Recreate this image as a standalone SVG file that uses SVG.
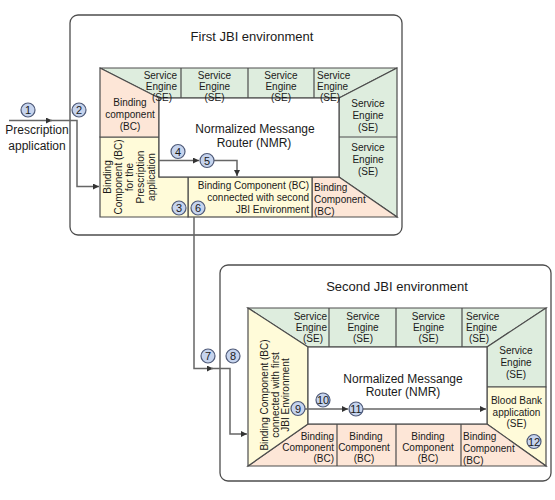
<svg xmlns="http://www.w3.org/2000/svg" width="555" height="500" viewBox="0 0 555 500">
<defs>
<style>
text{font-family:"Liberation Sans",Arial,sans-serif;fill:#1a1a1a}
.env{fill:#fff;stroke:#4d4d4d;stroke-width:1.3}
.t13{font-size:13px;text-anchor:middle}
.t12{font-size:12px;text-anchor:middle}
.t10{font-size:10px}
.m{text-anchor:middle}
.e{text-anchor:end}
.g{fill:#deedde;stroke:#4d4d4d;stroke-width:1.2}
.o{fill:#fde6d7;stroke:#4d4d4d;stroke-width:1.2}
.y{fill:#fffbd9;stroke:#4d4d4d;stroke-width:1.2}
.w{fill:#fff;stroke:#4d4d4d;stroke-width:1.2}
.dv{stroke:#4d4d4d;stroke-width:1.2;fill:none}
.c circle{fill:#c6d4ee;stroke:#4f5a78;stroke-width:1.2}
.c text{font-size:11px;text-anchor:middle}
.ln{fill:none;stroke:#666;stroke-width:1.5}
</style>
<marker id="ah" viewBox="0 0 10 10" refX="10" refY="5" markerWidth="8" markerHeight="6" markerUnits="userSpaceOnUse" orient="auto">
<path d="M0,0 L10,5 L0,10 z" fill="#333"/>
</marker>
</defs>

<g id="env1">
<rect class="env" x="70" y="15" width="332" height="220" rx="8"/>
<text class="t13" x="252" y="41">First JBI environment</text>
</g>

<g id="env1-frame">
<polygon class="g" points="100,68 397,68 339,98 159,98"/>
<path class="dv" d="M181,68V98M248,68V98M314,68V98"/>
<polygon class="g" points="397,68 397,217 339,177 339,98"/>
<path class="dv" d="M339,137H397"/>
<polygon class="o" points="312,177 339,177 397,217 312,217"/>
<rect class="y" x="188" y="177" width="124" height="40"/>
<polygon class="y" points="100,137 159,137 159,177 188,177 188,217 100,217"/>
<polygon class="o" points="100,68 159,98 159,137 100,137"/>
<rect class="w" x="159" y="98" width="180" height="79"/>
</g>

<g id="e1-se1"><text class="t10 e" x="177" y="78.5">Service</text><text class="t10 e" x="177" y="89.5">Engine</text><text class="t10 e" x="172" y="100.5">(SE)</text></g>
<g id="e1-se2"><text class="t10 m" x="214.5" y="78.5">Service</text><text class="t10 m" x="214.5" y="89.5">Engine</text><text class="t10 m" x="214.5" y="100.5">(SE)</text></g>
<g id="e1-se3"><text class="t10 m" x="281" y="78.5">Service</text><text class="t10 m" x="281" y="89.5">Engine</text><text class="t10 m" x="281" y="100.5">(SE)</text></g>
<g id="e1-se4"><text class="t10" x="317" y="78.5">Service</text><text class="t10" x="317" y="89.5">Engine</text><text class="t10" x="320" y="100.5">(SE)</text></g>
<g id="e1-se5"><text class="t10 m" x="368" y="107">Service</text><text class="t10 m" x="368" y="119">Engine</text><text class="t10 m" x="368" y="131">(SE)</text></g>
<g id="e1-se6"><text class="t10 m" x="368" y="151">Service</text><text class="t10 m" x="368" y="163">Engine</text><text class="t10 m" x="368" y="175">(SE)</text></g>
<g id="e1-bc1"><text class="t10 m" x="130" y="105.5">Binding</text><text class="t10 m" x="130" y="117.5">component</text><text class="t10 m" x="130" y="129.5">(BC)</text></g>
<g id="e1-nmr"><text class="t12" x="255" y="133">Normalized Messange</text><text class="t12" x="254" y="146.5">Router (NMR)</text></g>
<g id="e1-bcp" transform="translate(0,177) rotate(-90)">
<text class="t10 m" x="0" y="110.5">Binding</text>
<text class="t10 m" x="0" y="121.5">Component (BC)</text>
<text class="t10 m" x="0" y="132.5">for the</text>
<text class="t10 m" x="0" y="143.5">Prescription</text>
<text class="t10 m" x="0" y="154.5">application</text>
</g>
<g id="e1-bc2"><text class="t10 e" x="309" y="189">Binding Component (BC)</text><text class="t10 e" x="309" y="201">connected with second</text><text class="t10 e" x="309" y="213">JBI Environment</text></g>
<g id="e1-bc3"><text class="t10" x="314" y="191">Binding</text><text class="t10" x="314" y="203">Component</text><text class="t10" x="314" y="215">(BC)</text></g>

<g id="presc"><text class="t12" x="37" y="133.5">Prescription</text><text class="t12" x="37" y="150">application</text></g>

<g id="env2">
<rect class="env" x="220" y="265" width="331" height="216" rx="8"/>
<text class="t13" x="397" y="291">Second JBI environment</text>
</g>

<g id="env2-frame">
<polygon class="g" points="248,308 546,308 487,347 308,347"/>
<path class="dv" d="M329,308V347M396,308V347M462,308V347"/>
<polygon class="g" points="546,308 546,387 487,387 487,347"/>
<polygon class="y" points="487,387 546,387 546,466 487,424"/>
<polygon class="o" points="248,466 308,424 487,424 546,466"/>
<path class="dv" d="M337,424V466M396,424V466M461,424V466"/>
<polygon class="y" points="248,308 308,347 308,424 248,466"/>
<rect class="w" x="308" y="347" width="179" height="77"/>
</g>

<g id="e2-se1"><text class="t10 e" x="327" y="319.5">Service</text><text class="t10 e" x="327" y="330.5">Engine</text><text class="t10 e" x="323" y="341.5">(SE)</text></g>
<g id="e2-se2"><text class="t10 m" x="363" y="319.5">Service</text><text class="t10 m" x="363" y="330.5">Engine</text><text class="t10 m" x="363" y="341.5">(SE)</text></g>
<g id="e2-se3"><text class="t10 m" x="428.5" y="319.5">Service</text><text class="t10 m" x="428.5" y="330.5">Engine</text><text class="t10 m" x="428.5" y="341.5">(SE)</text></g>
<g id="e2-se4"><text class="t10" x="466" y="319.5">Service</text><text class="t10" x="466" y="330.5">Engine</text><text class="t10" x="469" y="341.5">(SE)</text></g>
<g id="e2-se5"><text class="t10 m" x="516" y="354">Service</text><text class="t10 m" x="516" y="366">Engine</text><text class="t10 m" x="516" y="378">(SE)</text></g>
<g id="e2-bb"><text class="t10 m" x="516.5" y="404">Blood Bank</text><text class="t10 m" x="516.5" y="415.5">application</text><text class="t10 m" x="516.5" y="427">(SE)</text></g>
<g id="e2-nmr"><text class="t12" x="403" y="382.5">Normalized Messange</text><text class="t12" x="403" y="396">Router (NMR)</text></g>
<g id="e2-bcf" transform="translate(0,395) rotate(-90)">
<text class="t10 m" x="0" y="268">Binding Component (BC)</text>
<text class="t10 m" x="0" y="278.5">connected with first</text>
<text class="t10 m" x="0" y="289">JBI Environment</text>
</g>
<g id="e2-bc1"><text class="t10 e" x="334" y="440">Binding</text><text class="t10 e" x="334" y="451">Component</text><text class="t10 e" x="334" y="462">(BC)</text></g>
<g id="e2-bc2"><text class="t10 m" x="366" y="440">Binding</text><text class="t10 m" x="364" y="451">Component</text><text class="t10 m" x="364" y="462">(BC)</text></g>
<g id="e2-bc3"><text class="t10 m" x="428" y="440">Binding</text><text class="t10 m" x="428" y="451">Component</text><text class="t10 m" x="428" y="462">(BC)</text></g>
<g id="e2-bc4"><text class="t10" x="463" y="440">Binding</text><text class="t10" x="463" y="452">Component</text><text class="t10" x="463" y="464">(BC)</text></g>

<g id="connectors">
<path class="ln" d="M9,120.5H52" marker-end="url(#ah)"/>
<path class="ln" d="M50,120.5H77V186.5H99" marker-end="url(#ah)"/>
<path class="ln" d="M159,160.5H199" marker-end="url(#ah)"/>
<path class="ln" d="M214,160.5H237V176" marker-end="url(#ah)"/>
<path class="ln" d="M194,217V368.5H213" marker-end="url(#ah)"/>
<path class="ln" d="M211,368.5H230V434H247" marker-end="url(#ah)"/>
<path class="ln" d="M305,409H348" marker-end="url(#ah)"/>
<path class="ln" d="M363,409H486" marker-end="url(#ah)"/>
</g>

<g id="steps" class="c">
<g id="s1"><circle cx="28" cy="110" r="7"/><text x="28" y="114">1</text></g>
<g id="s2"><circle cx="79" cy="110" r="7"/><text x="79" y="114">2</text></g>
<g id="s3"><circle cx="179" cy="208" r="7"/><text x="179" y="212">3</text></g>
<g id="s4"><circle cx="178" cy="151.5" r="7"/><text x="178" y="155.5">4</text></g>
<g id="s5"><circle cx="207" cy="160.5" r="7"/><text x="207" y="164.5">5</text></g>
<g id="s6"><circle cx="198" cy="208" r="7"/><text x="198" y="212">6</text></g>
<g id="s7"><circle cx="208" cy="356" r="7"/><text x="208" y="360">7</text></g>
<g id="s8"><circle cx="233" cy="356" r="7"/><text x="233" y="360">8</text></g>
<g id="s9"><circle cx="298" cy="408.5" r="7"/><text x="298" y="412.5">9</text></g>
<g id="s10"><circle cx="323" cy="400" r="7"/><text x="323" y="404">10</text></g>
<g id="s11"><circle cx="356" cy="409" r="7"/><text x="356" y="413">11</text></g>
<g id="s12"><circle cx="534" cy="441.5" r="7"/><text x="534" y="445.5">12</text></g>
</g>
</svg>
